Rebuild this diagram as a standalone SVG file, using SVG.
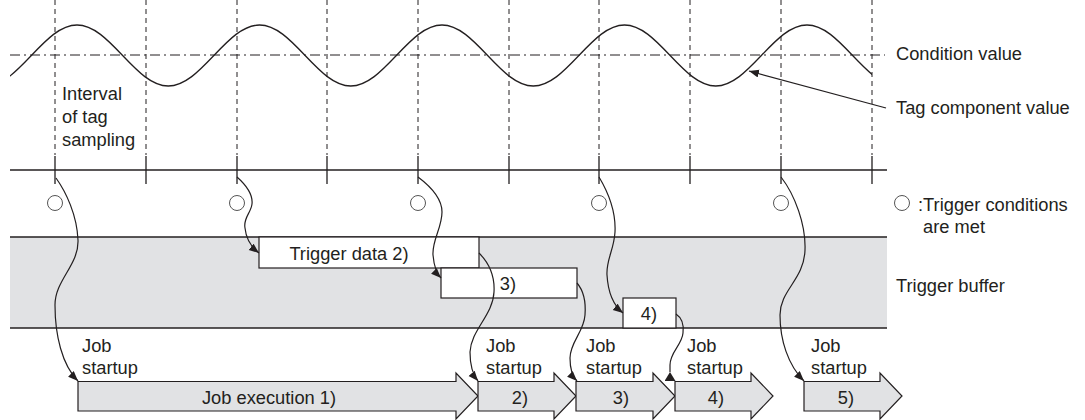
<svg xmlns="http://www.w3.org/2000/svg" width="1085" height="420" viewBox="0 0 1085 420">
<style>
text{font-family:"Liberation Sans",Arial,sans-serif;font-size:18.3px;fill:#231f20}
.ln{stroke:#231f20;stroke-width:1.3;fill:none}
.dash{stroke:#231f20;stroke-width:1;stroke-dasharray:5 4;fill:none}
.dd{stroke:#231f20;stroke-width:1;stroke-dasharray:10 4 2 4;fill:none}
.cn{stroke:#231f20;stroke-width:1.2;fill:none;marker-end:url(#ah)}
.box{fill:#fff;stroke:#231f20;stroke-width:1.2}
.job{fill:#e1e2e4;stroke:#231f20;stroke-width:1.2}
.circ{fill:#fff;stroke:#555;stroke-width:1}
.mid{text-anchor:middle}
</style>
<defs>
<marker id="ah" markerUnits="userSpaceOnUse" markerWidth="11" markerHeight="9" refX="10" refY="4" orient="auto"><path d="M0,0 L10,4 L0,8 z" fill="#231f20"/></marker>
<marker id="ahUp" markerUnits="userSpaceOnUse" markerWidth="11" markerHeight="12" refX="9" refY="5.5" orient="-90"><path d="M0,0 L9,5.5 L0,11 z" fill="#231f20"/></marker>
<clipPath id="wclip"><rect x="10" y="0" width="862" height="120"/></clipPath>
</defs>

<g id="grid">
<path class="dash" d="M55,0V155M146,0V155M237,0V155M327,0V155M418,0V155M509,0V155M599,0V155M690,0V155M781,0V155M872,0V155"/>
<line class="dd" x1="10" y1="55" x2="885" y2="55"/>
</g>

<g id="wave">
<path class="ln" clip-path="url(#wclip)" d="M-14.25,86 C2.26,86 16.49,71.13 31.375,55.5 C46.255,39.87 60.485,25 77,25 C93.51,25 107.74,39.87 122.625,55.5 C137.505,71.13 151.735,86 168.25,86 C184.76,86 198.99,71.13 213.875,55.5 C228.755,39.87 242.985,25 259.5,25 C276.01,25 290.24,39.87 305.125,55.5 C320.005,71.13 334.235,86 350.75,86 C367.26,86 381.49,71.13 396.375,55.5 C411.255,39.87 425.485,25 442,25 C458.51,25 472.74,39.87 487.625,55.5 C502.505,71.13 516.735,86 533.25,86 C549.76,86 563.99,71.13 578.875,55.5 C593.755,39.87 607.985,25 624.5,25 C641.01,25 655.24,39.87 670.125,55.5 C685.005,71.13 699.235,86 715.75,86 C732.26,86 746.49,71.13 761.375,55.5 C776.255,39.87 790.485,25 807,25 C823.51,25 837.74,39.87 852.625,55.5 C867.505,71.13 881.735,86 898.25,86"/>
</g>

<g id="labels-top">
<text x="896" y="60">Condition value</text>
<text x="896" y="114">Tag component value</text>
<text x="62" y="100">Interval</text>
<text x="62" y="123">of tag</text>
<text x="62" y="146">sampling</text>
</g>

<g id="timeline">
<line class="ln" x1="10" y1="170" x2="887" y2="170"/>
<path class="ln" d="M55,156V184M146,156V184M237,156V184M327,156V184M418,156V184M509,156V184M599,156V184M690,156V184M781,156V184M872,156V184"/>
</g>

<g id="trigger-points">
<circle class="circ" cx="55" cy="203" r="7.5"/>
<circle class="circ" cx="237" cy="203" r="7.5"/>
<circle class="circ" cx="418" cy="203" r="7.5"/>
<circle class="circ" cx="599" cy="203" r="7.5"/>
<circle class="circ" cx="781" cy="203" r="7.5"/>
</g>

<g id="legend">
<circle class="circ" cx="902" cy="203" r="7.5"/>
<text x="918" y="211">:Trigger conditions</text>
<text x="923" y="233">are met</text>
</g>

<g id="trigger-buffer">
<rect x="10" y="237" width="877" height="91" fill="#e1e2e4"/>
<line class="ln" x1="10" y1="237" x2="887" y2="237"/>
<line class="ln" x1="10" y1="328" x2="887" y2="328"/>
<text x="896" y="292">Trigger buffer</text>
</g>

<g id="trigger-data-2">
<rect class="box" x="259" y="237" width="220" height="31"/>
<text x="349" y="260" class="mid">Trigger data 2)</text>
</g>
<g id="trigger-data-3">
<rect class="box" x="441" y="268" width="136" height="30"/>
<text x="508" y="290" class="mid">3)</text>
</g>
<g id="trigger-data-4">
<rect class="box" x="623" y="298" width="53" height="30"/>
<text x="649" y="320" class="mid">4)</text>
</g>

<g id="job-1">
<polygon class="job" points="78,381.5 456,381.5 456,373 478,396 456,419 456,411 78,411"/>
<text x="269" y="404" class="mid">Job execution 1)</text>
<text x="82" y="352">Job</text>
<text x="82" y="374">startup</text>
</g>
<g id="job-2">
<polygon class="job" points="478,381.5 554,381.5 554,373 576,396 554,419 554,411 478,411"/>
<text x="520" y="404" class="mid">2)</text>
<text x="486" y="352">Job</text>
<text x="486" y="374">startup</text>
</g>
<g id="job-3">
<polygon class="job" points="576,381.5 653,381.5 653,373 675,396 653,419 653,411 576,411"/>
<text x="621" y="404" class="mid">3)</text>
<text x="586" y="352">Job</text>
<text x="586" y="374">startup</text>
</g>
<g id="job-4">
<polygon class="job" points="675,381.5 751,381.5 751,373 773,396 751,419 751,411 675,411"/>
<text x="716" y="404" class="mid">4)</text>
<text x="687" y="352">Job</text>
<text x="687" y="374">startup</text>
</g>
<g id="job-5">
<polygon class="job" points="804,381.5 880,381.5 880,373 902,396 880,419 880,411 804,411"/>
<text x="846" y="404" class="mid">5)</text>
<text x="811" y="352">Job</text>
<text x="811" y="374">startup</text>
</g>

<g id="connectors">
<line class="cn" x1="886" y1="108" x2="749" y2="71"/>
<path class="cn" d="M56,178 C66,192 77,215 78,240 C79,265 55,280 55,305 C55,335 62,365 78,381"/>
<path class="cn" d="M237,177 C246,185 253,195 252,204 C251,213 243,218 245,228 C246,238 250,246 259,253"/>
<path class="cn" d="M418,177 C430,186 442,198 442,212 C442,228 432,240 433,255 C434,266 436,273 441,278"/>
<path class="cn" d="M599,177 C608,192 616,212 615,232 C614,250 606,260 607,275 C608,292 613,305 623,313"/>
<path class="cn" d="M781,177 C795,195 806,225 805,250 C804,280 780,290 780,315 C780,340 788,365 804,381"/>
<path class="cn" d="M479,253 C488,262 495,275 494,292 C493,315 471,330 470,352 C470,366 473,375 478,381"/>
<path class="cn" d="M577,283 C583,290 586,302 585,315 C584,332 570,342 570,358 C570,368 572,376 577,381"/>
<path class="ln" style="stroke-width:1.2;marker-end:url(#ahUp)" d="M676,314 C682,318 684,325 683,333 C682,345 670,352 670,365 L670,372"/>
</g>
</svg>
